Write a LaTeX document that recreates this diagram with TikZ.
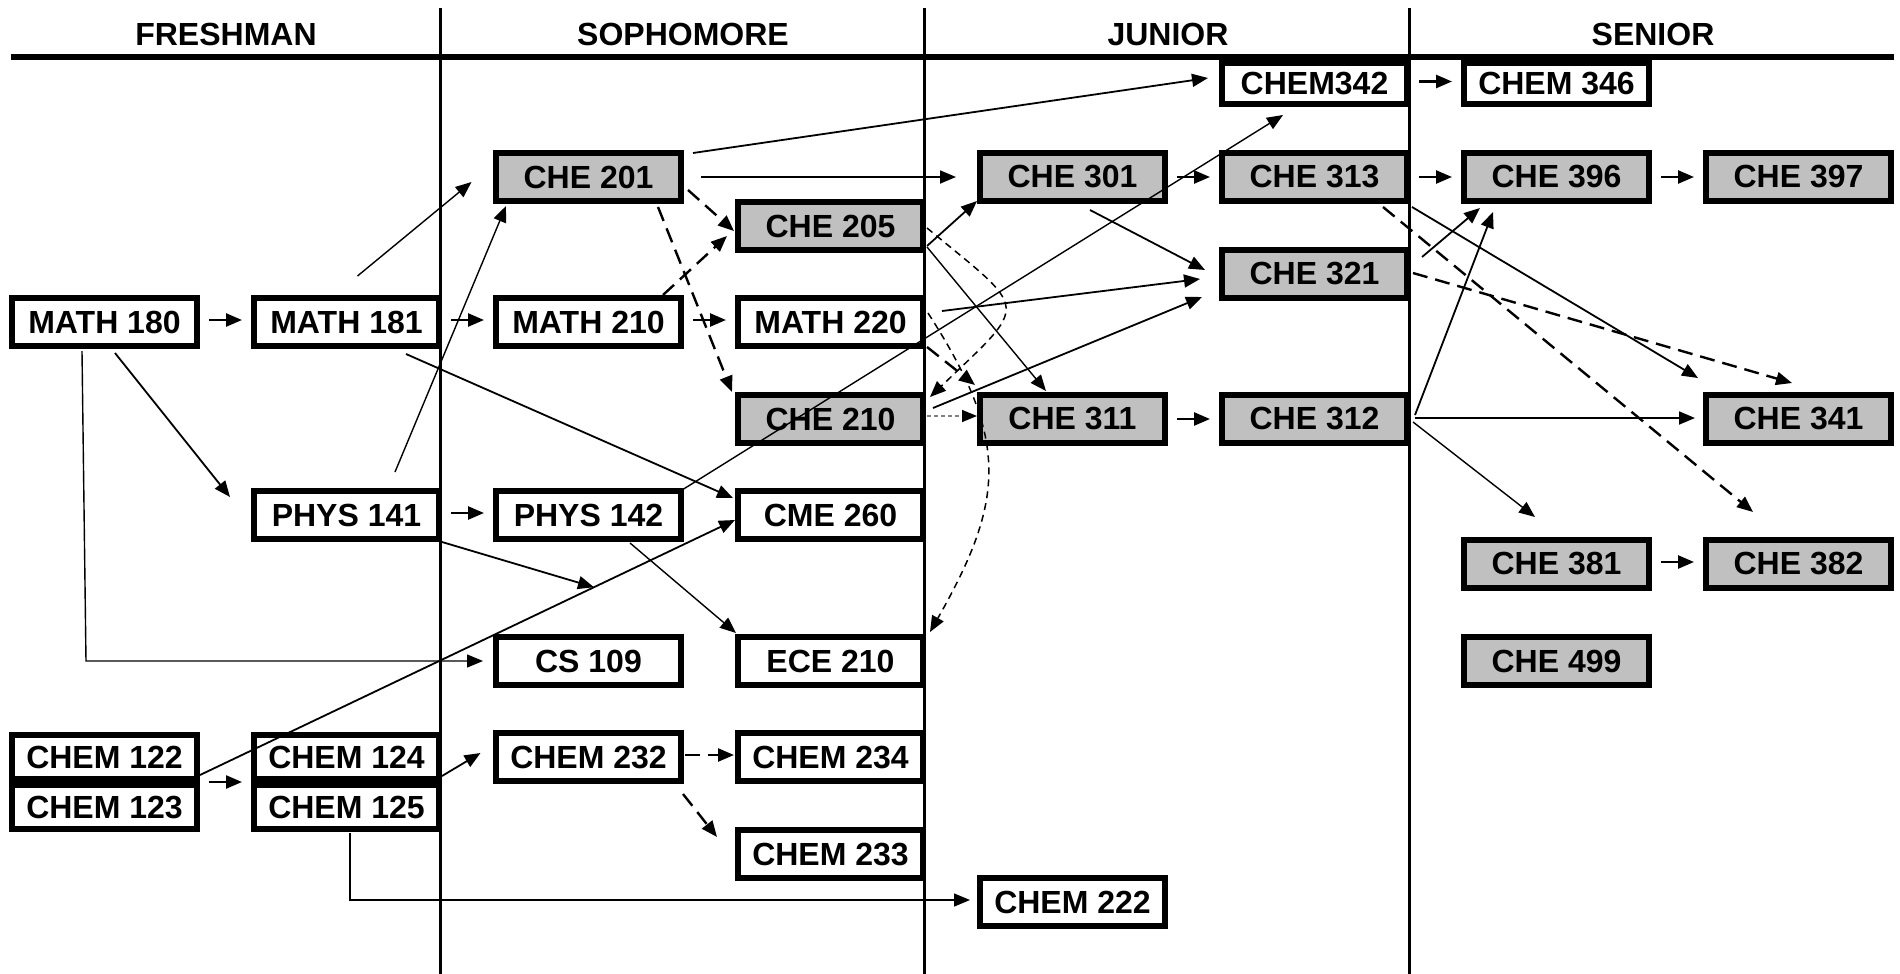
\documentclass[tikz,border=0pt]{standalone}
\usepackage{fontspec}
\setmainfont{Liberation Sans}
\usetikzlibrary{arrows.meta,calc}
\definecolor{boxgray}{HTML}{C0C0C0}
\newcommand{\boxfont}{\fontsize{32}{37}\selectfont\bfseries}
\begin{document}
\begin{tikzpicture}[x=1pt,y=-1pt,
  box/.style={draw=black, line width=5.8pt, fill=white, minimum width=185.2pt, minimum height=48.2pt, inner sep=0pt, font=\boxfont},
  gbox/.style={box, fill=boxgray},
  tbox/.style={box, minimum height=41.2pt},
  sbox/.style={box, minimum height=44.2pt},
  hdr/.style={font=\boxfont, inner sep=0pt},
  tip/.style={-{Triangle[length=16pt,width=13pt]}},
  con/.style={tip, line width=1.8pt},
  conthin/.style={tip, line width=1.4pt},
  sh/.style={tip, line width=2.5pt, shorten <=9pt, shorten >=9pt},
  dsh/.style={tip, line width=2.4pt, dash pattern=on 15pt off 8pt},
  dcurve/.style={tip, line width=1.5pt, dash pattern=on 7pt off 5pt},
  gdash/.style={-{Triangle[length=15pt,width=12pt,color=black]}, line width=1.3pt, draw=gray, dash pattern=on 4pt off 3pt}
]
\useasboundingbox (0,0) rectangle (1900,974);

% dividers and header line
\draw[line width=2.5pt] (440.5,8) -- (440.5,974);
\draw[line width=2.5pt] (924.5,8) -- (924.5,974);
\draw[line width=2.5pt] (1409.5,8) -- (1409.5,974);
\draw[line width=5.3pt] (11,57) -- (1894,57);

\node[hdr] (hfr) at (226,34) {FRESHMAN};
\node[hdr] (hso) at (683,34) {SOPHOMORE};
\node[hdr] (hju) at (1168,34) {JUNIOR};
\node[hdr] (hse) at (1653,34) {SENIOR};

% nodes
\node[box]  (math180) at (104.5,322) {MATH 180};
\node[box]  (math181) at (346.5,322) {MATH 181};
\node[box]  (math210) at (588.5,322) {MATH 210};
\node[box]  (math220) at (830.5,322) {MATH 220};
\node[gbox] (che201) at (588.5,177) {CHE 201};
\node[gbox] (che205) at (830.5,226) {CHE 205};
\node[gbox] (che210) at (830.5,419) {CHE 210};
\node[box]  (phys141) at (346.5,515) {PHYS 141};
\node[box]  (phys142) at (588.5,515) {PHYS 142};
\node[box]  (cme260) at (830.5,515) {CME 260};
\node[box]  (cs109) at (588.5,661) {CS 109};
\node[box]  (ece210) at (830.5,661) {ECE 210};
\node[sbox] (chem122) at (104.5,757) {CHEM 122};
\node[sbox] (chem123) at (104.5,807) {CHEM 123};
\node[sbox] (chem124) at (346.5,757) {CHEM 124};
\node[sbox] (chem125) at (346.5,807) {CHEM 125};
\node[box]  (chem232) at (588.5,757) {CHEM 232};
\node[box]  (chem234) at (830.5,757) {CHEM 234};
\node[box]  (chem233) at (830.5,854) {CHEM 233};
\node[box]  (chem222) at (1072.5,902) {CHEM 222};
\node[gbox] (che301) at (1072.5,177) {CHE 301};
\node[gbox] (che311) at (1072.5,419) {CHE 311};
\node[tbox] (chem342) at (1314.5,83.5) {CHEM342};
\node[gbox] (che313) at (1314.5,177) {CHE 313};
\node[gbox] (che321) at (1314.5,274) {CHE 321};
\node[gbox] (che312) at (1314.5,419) {CHE 312};
\node[tbox] (chem346) at (1556.5,83.5) {CHEM 346};
\node[gbox] (che396) at (1556.5,177) {CHE 396};
\node[gbox] (che381) at (1556.5,564) {CHE 381};
\node[gbox] (che499) at (1556.5,661) {CHE 499};
\node[gbox] (che397) at (1798.5,177) {CHE 397};
\node[gbox] (che341) at (1798.5,419) {CHE 341};
\node[gbox] (che382) at (1798.5,564) {CHE 382};

% short arrows
\draw[sh] ([yshift=2pt]math180.east) -- ([yshift=2pt]math181.west);
\draw[sh] ([yshift=2pt]math181.east) -- ([yshift=2pt]math210.west);
\draw[sh] ([yshift=2pt]math210.east) -- ([yshift=2pt]math220.west);
\draw[sh] ([yshift=2pt]phys141.east) -- ([yshift=2pt]phys142.west);
\draw[sh] ([yshift=2pt]chem342.east) -- ([yshift=2pt]chem346.west);
\draw[sh] (che301.east) -- (che313.west);
\draw[sh] (che313.east) -- (che396.west);
\draw[sh] (che396.east) -- (che397.west);
\draw[sh] (che311.east) -- (che312.west);
\draw[sh] ([yshift=2pt]che381.east) -- ([yshift=2pt]che382.west);
\draw[sh] (chem122.south east) -- (chem124.south west);
\draw[sh, line width=2.4pt, dash pattern=on 15pt off 8pt, shorten <=1pt, shorten >=1pt] ([yshift=2pt]chem232.east) -- ([yshift=2pt]chem234.west);

% long connectors
\draw[conthin] ($(math181)+(11,-46)$) -- ($(che201)+(-117,5)$);
\draw[conthin] ($(phys141)+(48.5,-43)$) -- ($(che201)+(-82.5,29)$);
\draw[con] ($(math180)+(10.5,31)$) -- ($(phys141)+(-116.5,-18)$);
\draw[conthin] ($(math180)+(-22.5,29)$) -- ($(cs109)+(-502.5,0)$) -- ($(cs109)+(-105.5,0)$);
\draw[con] ($(math181)+(59.5,32)$) -- ($(cme260)+(-97.5,-17)$);
\coordinate (j0) at ($(chem122)+(95.5,18)$);
\coordinate (j1) at ($(cme260)+(-95.5,5)$);
\coordinate (joint) at ($(j0)!0.7364!(j1)$);
\draw[con] (j0) -- (j1);
\draw[con] ($(phys141)+(95.5,27)$) -- (joint);
\draw[conthin] ($(phys142)+(41.5,28)$) -- ($(ece210)+(-94.5,-28)$);
\draw[conthin] ($(phys142)+(93.5,-25)$) -- ($(chem342)+(-31.5,31.5)$);
\draw[con] ($(chem124)+(95.5,19)$) -- ($(chem232)+(-108,-4)$);
\draw[dsh] ($(chem232)+(94.5,37)$) -- ($(chem233)+(-113.5,-17)$);
\draw[conthin] ($(chem125)+(3.5,26)$) -- ($(chem222)+(-722.5,-2)$) -- ($(chem222)+(-102.5,-2)$);
\draw[con] ($(che201)+(104.5,-24)$) -- ($(chem342)+(-106.5,-5.5)$);
\draw[con] ($(che201)+(112.5,0)$) -- ($(che301)+(-116.5,0)$);
\draw[dsh] ($(che201)+(99.5,13)$) -- ($(che205)+(-96.5,5)$);
\draw[dsh] ($(che201)+(69.5,30)$) -- ($(che210)+(-98.5,-27)$);
\draw[dsh] ($(math210)+(74.5,-27)$) -- ($(che205)+(-103.5,10)$);
\draw[con] ($(che205)+(96.5,20)$) -- ($(che301)+(-95.5,24)$);
\draw[conthin] ($(che205)+(96.5,21)$) -- ($(che311)+(-26.5,-28)$);
\draw[dcurve] ($(che205)+(96.5,2)$) .. controls ($(che205)+(199.5,87)$) and ($(che210)+(199.5,-118)$) .. ($(che210)+(99.5,-22)$);
\draw[dsh] ($(math220)+(96.5,25)$) -- ($(che311)+(-97.5,-34)$);
\draw[dcurve] ($(math220)+(97.5,-9)$) .. controls ($(math220)+(179.5,118)$) and ($(ece210)+(174.5,-161)$) .. ($(ece210)+(99.5,-29)$);
\draw[gdash] ($(che210)+(96.5,-3)$) -- ($(che311)+(-95.5,-3)$);
\draw[con] ($(che210)+(102.5,-11)$) -- ($(che321)+(-112.5,23)$);
\draw[con] ($(math220)+(111.5,-11)$) -- ($(che321)+(-114.5,5)$);
\draw[con] ($(che301)+(17.5,33)$) -- ($(che321)+(-109.5,-4)$);
\draw[con] ($(che313)+(97.5,30)$) -- ($(che341)+(-100.5,-41)$);
\draw[dsh] ($(che313)+(68.5,30)$) -- ($(che382)+(-45.5,-52)$);
\draw[dsh] ($(che321)+(98.5,-1)$) -- ($(che341)+(-6.5,-36)$);
\draw[con] ($(che312)+(100.5,-4)$) -- ($(che396)+(-63.5,35)$);
\draw[con] ($(che321)+(107.5,-17)$) -- ($(che396)+(-76.5,31)$);
\draw[con] ($(che312)+(100.5,-1)$) -- ($(che341)+(-103.5,-1)$);
\draw[conthin] ($(che312)+(98.5,3)$) -- ($(che381)+(-21.5,-47)$);
\end{tikzpicture}
\end{document}
